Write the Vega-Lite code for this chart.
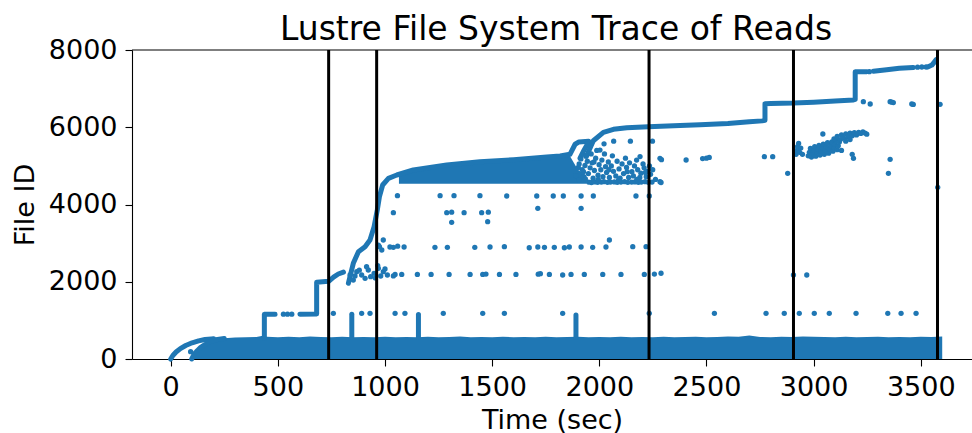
{
  "$schema": "https://vega.github.io/schema/vega-lite/v6.json",
  "width": 840,
  "height": 309,
  "autosize": {"type": "none"},
  "padding": {"left": 132, "top": 50, "right": 0, "bottom": 74},
  "background": "white",
  "title": {"text": "Lustre File System Trace of Reads", "font": "DejaVu Sans", "fontSize": 33, "fontWeight": "normal", "color": "black", "anchor": "middle", "baseline": "alphabetic", "offset": 0, "dy": 36.5, "dx": 4},
  "config": {
    "view": {"stroke": null},
    "axis": {"labelFont": "DejaVu Sans", "titleFont": "DejaVu Sans", "labelFontSize": 27, "titleFontSize": 27, "titleFontWeight": "normal", "labelColor": "black", "titleColor": "black", "tickColor": "black", "domainColor": "black", "domainWidth": 1.1, "tickWidth": 1.1, "grid": false, "tickSize": 7, "labelPadding": 8}
  },
  "datasets": {
    "areas": [
      {"part": "band", "t": 98, "lo": 0, "v": 0},
      {"part": "band", "t": 110, "lo": 0, "v": 130},
      {"part": "band", "t": 125, "lo": 0, "v": 220},
      {"part": "band", "t": 140, "lo": 0, "v": 300},
      {"part": "band", "t": 160, "lo": 0, "v": 370},
      {"part": "band", "t": 185, "lo": 0, "v": 450},
      {"part": "band", "t": 210, "lo": 0, "v": 500},
      {"part": "band", "t": 250, "lo": 0, "v": 540},
      {"part": "band", "t": 300, "lo": 0, "v": 555},
      {"part": "band", "t": 350, "lo": 0, "v": 565},
      {"part": "band", "t": 400, "lo": 0, "v": 570},
      {"part": "band", "t": 430, "lo": 0, "v": 600},
      {"part": "band", "t": 450, "lo": 0, "v": 575},
      {"part": "band", "t": 500, "lo": 0, "v": 565},
      {"part": "band", "t": 550, "lo": 0, "v": 575},
      {"part": "band", "t": 600, "lo": 0, "v": 560},
      {"part": "band", "t": 650, "lo": 0, "v": 580},
      {"part": "band", "t": 700, "lo": 0, "v": 570},
      {"part": "band", "t": 750, "lo": 0, "v": 565},
      {"part": "band", "t": 800, "lo": 0, "v": 575},
      {"part": "band", "t": 850, "lo": 0, "v": 560},
      {"part": "band", "t": 900, "lo": 0, "v": 570},
      {"part": "band", "t": 950, "lo": 0, "v": 565},
      {"part": "band", "t": 1000, "lo": 0, "v": 575},
      {"part": "band", "t": 1050, "lo": 0, "v": 560},
      {"part": "band", "t": 1100, "lo": 0, "v": 570},
      {"part": "band", "t": 1150, "lo": 0, "v": 565},
      {"part": "band", "t": 1200, "lo": 0, "v": 575},
      {"part": "band", "t": 1250, "lo": 0, "v": 560},
      {"part": "band", "t": 1300, "lo": 0, "v": 570},
      {"part": "band", "t": 1350, "lo": 0, "v": 580},
      {"part": "band", "t": 1400, "lo": 0, "v": 565},
      {"part": "band", "t": 1450, "lo": 0, "v": 570},
      {"part": "band", "t": 1500, "lo": 0, "v": 560},
      {"part": "band", "t": 1550, "lo": 0, "v": 575},
      {"part": "band", "t": 1600, "lo": 0, "v": 565},
      {"part": "band", "t": 1650, "lo": 0, "v": 570},
      {"part": "band", "t": 1700, "lo": 0, "v": 560},
      {"part": "band", "t": 1750, "lo": 0, "v": 575},
      {"part": "band", "t": 1800, "lo": 0, "v": 565},
      {"part": "band", "t": 1850, "lo": 0, "v": 570},
      {"part": "band", "t": 1900, "lo": 0, "v": 575},
      {"part": "band", "t": 1950, "lo": 0, "v": 560},
      {"part": "band", "t": 2000, "lo": 0, "v": 570},
      {"part": "band", "t": 2050, "lo": 0, "v": 565},
      {"part": "band", "t": 2100, "lo": 0, "v": 575},
      {"part": "band", "t": 2150, "lo": 0, "v": 560},
      {"part": "band", "t": 2200, "lo": 0, "v": 570},
      {"part": "band", "t": 2250, "lo": 0, "v": 565},
      {"part": "band", "t": 2300, "lo": 0, "v": 575},
      {"part": "band", "t": 2350, "lo": 0, "v": 560},
      {"part": "band", "t": 2400, "lo": 0, "v": 570},
      {"part": "band", "t": 2450, "lo": 0, "v": 575},
      {"part": "band", "t": 2500, "lo": 0, "v": 565},
      {"part": "band", "t": 2550, "lo": 0, "v": 570},
      {"part": "band", "t": 2600, "lo": 0, "v": 580},
      {"part": "band", "t": 2650, "lo": 0, "v": 575},
      {"part": "band", "t": 2700, "lo": 0, "v": 610},
      {"part": "band", "t": 2750, "lo": 0, "v": 570},
      {"part": "band", "t": 2800, "lo": 0, "v": 565},
      {"part": "band", "t": 2850, "lo": 0, "v": 575},
      {"part": "band", "t": 2900, "lo": 0, "v": 570},
      {"part": "band", "t": 2950, "lo": 0, "v": 580},
      {"part": "band", "t": 3000, "lo": 0, "v": 575},
      {"part": "band", "t": 3050, "lo": 0, "v": 570},
      {"part": "band", "t": 3100, "lo": 0, "v": 565},
      {"part": "band", "t": 3150, "lo": 0, "v": 575},
      {"part": "band", "t": 3200, "lo": 0, "v": 560},
      {"part": "band", "t": 3250, "lo": 0, "v": 570},
      {"part": "band", "t": 3300, "lo": 0, "v": 575},
      {"part": "band", "t": 3350, "lo": 0, "v": 560},
      {"part": "band", "t": 3400, "lo": 0, "v": 570},
      {"part": "band", "t": 3450, "lo": 0, "v": 565},
      {"part": "band", "t": 3500, "lo": 0, "v": 575},
      {"part": "band", "t": 3550, "lo": 0, "v": 570},
      {"part": "band", "t": 3600, "lo": 0, "v": 580},
      {"part": "cluster", "t": 1065, "lo": 4540, "v": 4780},
      {"part": "cluster", "t": 1100, "lo": 4540, "v": 4840},
      {"part": "cluster", "t": 1200, "lo": 4540, "v": 4950},
      {"part": "cluster", "t": 1300, "lo": 4540, "v": 5030},
      {"part": "cluster", "t": 1400, "lo": 4540, "v": 5090},
      {"part": "cluster", "t": 1500, "lo": 4540, "v": 5130},
      {"part": "cluster", "t": 1600, "lo": 4540, "v": 5160},
      {"part": "cluster", "t": 1700, "lo": 4540, "v": 5200},
      {"part": "cluster", "t": 1800, "lo": 4540, "v": 5250},
      {"part": "cluster", "t": 1860, "lo": 4540, "v": 5280},
      {"part": "cluster", "t": 1900, "lo": 4540, "v": 4900},
      {"part": "cluster", "t": 1940, "lo": 4540, "v": 4760}
    ],
    "curves": [
      {"seg": "a1", "i": 1, "t": 0, "v": 0},
      {"seg": "a1", "i": 2, "t": 10, "v": 90},
      {"seg": "a1", "i": 3, "t": 25, "v": 180},
      {"seg": "a1", "i": 4, "t": 45, "v": 270},
      {"seg": "a1", "i": 5, "t": 70, "v": 350},
      {"seg": "a1", "i": 6, "t": 100, "v": 420},
      {"seg": "a1", "i": 7, "t": 130, "v": 470},
      {"seg": "a1", "i": 8, "t": 160, "v": 505},
      {"seg": "a1", "i": 9, "t": 190, "v": 520},
      {"seg": "a1", "i": 10, "t": 200, "v": 525},
      {"seg": "a2", "i": 1, "t": 98, "v": 0},
      {"seg": "a2", "i": 2, "t": 110, "v": 130},
      {"seg": "a2", "i": 3, "t": 125, "v": 220},
      {"seg": "a2", "i": 4, "t": 140, "v": 300},
      {"seg": "a2", "i": 5, "t": 160, "v": 370},
      {"seg": "a2", "i": 6, "t": 185, "v": 450},
      {"seg": "a2", "i": 7, "t": 210, "v": 500},
      {"seg": "a2", "i": 8, "t": 250, "v": 530},
      {"seg": "s1", "i": 1, "t": 437, "v": 540},
      {"seg": "s1", "i": 2, "t": 437, "v": 1157},
      {"seg": "s1", "i": 3, "t": 487, "v": 1160},
      {"seg": "s2", "i": 1, "t": 603, "v": 1160},
      {"seg": "s2", "i": 2, "t": 681, "v": 1165},
      {"seg": "s2", "i": 3, "t": 681, "v": 1985},
      {"seg": "s2", "i": 4, "t": 737, "v": 2010},
      {"seg": "s2", "i": 5, "t": 760, "v": 2120},
      {"seg": "s2", "i": 6, "t": 782, "v": 2200},
      {"seg": "s2", "i": 7, "t": 806, "v": 2250},
      {"seg": "s3", "i": 1, "t": 829, "v": 1960},
      {"seg": "s3", "i": 2, "t": 852, "v": 2477},
      {"seg": "s3", "i": 3, "t": 876, "v": 2778},
      {"seg": "s3", "i": 4, "t": 907, "v": 2908},
      {"seg": "s3", "i": 5, "t": 930, "v": 3081},
      {"seg": "s3", "i": 6, "t": 949, "v": 3425},
      {"seg": "s3", "i": 7, "t": 964, "v": 3858},
      {"seg": "s3", "i": 8, "t": 974, "v": 4202},
      {"seg": "s3", "i": 9, "t": 989, "v": 4505},
      {"seg": "s3", "i": 10, "t": 1016, "v": 4678},
      {"seg": "s3", "i": 11, "t": 1055, "v": 4764},
      {"seg": "s3", "i": 12, "t": 1132, "v": 4893},
      {"seg": "s3", "i": 13, "t": 1288, "v": 5023},
      {"seg": "s3", "i": 14, "t": 1443, "v": 5108},
      {"seg": "s3", "i": 15, "t": 1600, "v": 5160},
      {"seg": "s3", "i": 16, "t": 1755, "v": 5230},
      {"seg": "s3", "i": 17, "t": 1817, "v": 5256},
      {"seg": "s3", "i": 18, "t": 1863, "v": 5300},
      {"seg": "s3", "i": 19, "t": 1887, "v": 5560},
      {"seg": "s3", "i": 20, "t": 1905, "v": 5620},
      {"seg": "s3", "i": 21, "t": 1950, "v": 5640},
      {"seg": "s4", "i": 1, "t": 1950, "v": 5620},
      {"seg": "s4", "i": 2, "t": 1928, "v": 5400},
      {"seg": "s4", "i": 3, "t": 1910, "v": 5200},
      {"seg": "s5", "i": 1, "t": 1940, "v": 5250},
      {"seg": "s5", "i": 2, "t": 1972, "v": 5650},
      {"seg": "s5", "i": 3, "t": 2019, "v": 5868},
      {"seg": "s5", "i": 4, "t": 2066, "v": 5946},
      {"seg": "s5", "i": 5, "t": 2128, "v": 5989},
      {"seg": "s5", "i": 6, "t": 2229, "v": 6015},
      {"seg": "s5", "i": 7, "t": 2377, "v": 6045},
      {"seg": "s5", "i": 8, "t": 2470, "v": 6065},
      {"seg": "s5", "i": 9, "t": 2600, "v": 6100},
      {"seg": "s5", "i": 10, "t": 2700, "v": 6140},
      {"seg": "s5", "i": 11, "t": 2760, "v": 6165},
      {"seg": "s5", "i": 12, "t": 2773, "v": 6180},
      {"seg": "s5", "i": 13, "t": 2773, "v": 6610},
      {"seg": "s5", "i": 14, "t": 2800, "v": 6615},
      {"seg": "s5", "i": 15, "t": 2906, "v": 6625},
      {"seg": "s5", "i": 16, "t": 3000, "v": 6650},
      {"seg": "s5", "i": 17, "t": 3100, "v": 6680},
      {"seg": "s5", "i": 18, "t": 3186, "v": 6706},
      {"seg": "s5", "i": 19, "t": 3194, "v": 6720},
      {"seg": "s5", "i": 20, "t": 3194, "v": 7438},
      {"seg": "s5", "i": 21, "t": 3248, "v": 7440},
      {"seg": "s6", "i": 1, "t": 3279, "v": 7450},
      {"seg": "s6", "i": 2, "t": 3341, "v": 7490},
      {"seg": "s6", "i": 3, "t": 3400, "v": 7525},
      {"seg": "s6", "i": 4, "t": 3465, "v": 7550},
      {"seg": "s7", "i": 1, "t": 3535, "v": 7565},
      {"seg": "s7", "i": 2, "t": 3552, "v": 7610},
      {"seg": "s7", "i": 3, "t": 3565, "v": 7700},
      {"seg": "s7", "i": 4, "t": 3572, "v": 7750},
      {"seg": "k1", "i": 1, "t": 845, "v": 560},
      {"seg": "k1", "i": 2, "t": 845, "v": 1157},
      {"seg": "k2", "i": 1, "t": 1156, "v": 560},
      {"seg": "k2", "i": 2, "t": 1156, "v": 1150},
      {"seg": "k3", "i": 1, "t": 1891, "v": 560},
      {"seg": "k3", "i": 2, "t": 1891, "v": 1139}
    ],
    "points": [
      {"t": 93, "v": 190},
      {"t": 526, "v": 1160}, {"t": 545, "v": 1160}, {"t": 565, "v": 1160},
      {"t": 759, "v": 1183}, {"t": 891, "v": 1183}, {"t": 930, "v": 1183}, {"t": 1047, "v": 1183}, {"t": 1093, "v": 1183},
      {"t": 1272, "v": 1183}, {"t": 1456, "v": 1183}, {"t": 1557, "v": 1183}, {"t": 1829, "v": 1183}, {"t": 2233, "v": 1183},
      {"t": 2537, "v": 1183}, {"t": 2778, "v": 1183}, {"t": 2863, "v": 1183}, {"t": 2933, "v": 1183}, {"t": 3003, "v": 1183},
      {"t": 3073, "v": 1183}, {"t": 3198, "v": 1183}, {"t": 3346, "v": 1183}, {"t": 3408, "v": 1183}, {"t": 3478, "v": 1183},
      {"t": 1047, "v": 2190}, {"t": 1078, "v": 2190}, {"t": 1151, "v": 2190}, {"t": 1215, "v": 2190}, {"t": 1299, "v": 2190},
      {"t": 1397, "v": 2190}, {"t": 1456, "v": 2190}, {"t": 1471, "v": 2200}, {"t": 1534, "v": 2190}, {"t": 1611, "v": 2190},
      {"t": 1715, "v": 2195}, {"t": 1725, "v": 2210}, {"t": 1767, "v": 2190}, {"t": 1829, "v": 2175}, {"t": 1868, "v": 2190},
      {"t": 1930, "v": 2190}, {"t": 2016, "v": 2190}, {"t": 2101, "v": 2190}, {"t": 2210, "v": 2190}, {"t": 2257, "v": 2200},
      {"t": 2288, "v": 2220}, {"t": 2906, "v": 2175}, {"t": 2968, "v": 2175},
      {"t": 837, "v": 2175}, {"t": 852, "v": 2045}, {"t": 868, "v": 2262}, {"t": 891, "v": 2175}, {"t": 907, "v": 2089},
      {"t": 922, "v": 2304}, {"t": 933, "v": 2131}, {"t": 949, "v": 2219}, {"t": 969, "v": 2348}, {"t": 980, "v": 2149},
      {"t": 992, "v": 2262}, {"t": 1011, "v": 2175}, {"t": 966, "v": 2420}, {"t": 914, "v": 2390}, {"t": 1039, "v": 2150},
      {"t": 860, "v": 2150}, {"t": 880, "v": 2300}, {"t": 955, "v": 2100}, {"t": 1000, "v": 2330},
      {"t": 969, "v": 2950}, {"t": 985, "v": 2822}, {"t": 992, "v": 3081}, {"t": 974, "v": 2908}, {"t": 1023, "v": 2900},
      {"t": 1039, "v": 2890}, {"t": 1059, "v": 2920}, {"t": 1089, "v": 2900}, {"t": 1233, "v": 2890}, {"t": 1291, "v": 2890},
      {"t": 1419, "v": 2890}, {"t": 1490, "v": 2900}, {"t": 1557, "v": 2908}, {"t": 1673, "v": 2880}, {"t": 1713, "v": 2900},
      {"t": 1744, "v": 2890}, {"t": 1790, "v": 2890}, {"t": 1837, "v": 2880}, {"t": 1860, "v": 2900}, {"t": 1915, "v": 2900},
      {"t": 1969, "v": 2890}, {"t": 2031, "v": 2900}, {"t": 2047, "v": 3081}, {"t": 2156, "v": 2908}, {"t": 2218, "v": 2908},
      {"t": 1039, "v": 3788}, {"t": 1288, "v": 3788}, {"t": 1311, "v": 3800}, {"t": 1369, "v": 3788}, {"t": 1451, "v": 3788},
      {"t": 1482, "v": 3800}, {"t": 1311, "v": 3539}, {"t": 1479, "v": 3555}, {"t": 1713, "v": 3901}, {"t": 1915, "v": 3901},
      {"t": 1058, "v": 4228}, {"t": 1257, "v": 4228}, {"t": 1322, "v": 4228}, {"t": 1443, "v": 4228}, {"t": 1568, "v": 4220},
      {"t": 1708, "v": 4220}, {"t": 1785, "v": 4220}, {"t": 1832, "v": 4220}, {"t": 1915, "v": 4220}, {"t": 1972, "v": 4220},
      {"t": 2171, "v": 4220}, {"t": 2233, "v": 4220},
      {"t": 1950, "v": 4580}, {"t": 1963, "v": 4570}, {"t": 1978, "v": 4585}, {"t": 1992, "v": 4575}, {"t": 2009, "v": 4580},
      {"t": 2021, "v": 4590}, {"t": 2038, "v": 4575}, {"t": 2052, "v": 4580}, {"t": 2070, "v": 4585}, {"t": 2084, "v": 4575},
      {"t": 2101, "v": 4580}, {"t": 2118, "v": 4590}, {"t": 2133, "v": 4575}, {"t": 2151, "v": 4580}, {"t": 2166, "v": 4585},
      {"t": 2182, "v": 4575}, {"t": 2196, "v": 4580}, {"t": 2214, "v": 4590}, {"t": 2229, "v": 4575}, {"t": 2246, "v": 4580},
      {"t": 1890, "v": 4750}, {"t": 1902, "v": 4960}, {"t": 1906, "v": 5050}, {"t": 1914, "v": 5180}, {"t": 1921, "v": 4700},
      {"t": 1926, "v": 4850}, {"t": 1933, "v": 5010}, {"t": 1937, "v": 5250}, {"t": 1944, "v": 5120}, {"t": 1949, "v": 4800},
      {"t": 1957, "v": 4950}, {"t": 1962, "v": 5310}, {"t": 1966, "v": 5080}, {"t": 1971, "v": 4680}, {"t": 1977, "v": 4880},
      {"t": 1983, "v": 5200}, {"t": 1988, "v": 5400}, {"t": 1994, "v": 4760}, {"t": 1999, "v": 5030}, {"t": 2007, "v": 4900},
      {"t": 2012, "v": 5150}, {"t": 2017, "v": 4720}, {"t": 2024, "v": 5310}, {"t": 2029, "v": 4980}, {"t": 2034, "v": 4830},
      {"t": 2042, "v": 5100}, {"t": 2047, "v": 4700}, {"t": 2056, "v": 5000}, {"t": 2061, "v": 5260}, {"t": 2066, "v": 4860},
      {"t": 2077, "v": 4740}, {"t": 2083, "v": 5120}, {"t": 2092, "v": 4920}, {"t": 2097, "v": 4680}, {"t": 2106, "v": 5050},
      {"t": 2113, "v": 4800}, {"t": 2122, "v": 5200}, {"t": 2127, "v": 4960}, {"t": 2137, "v": 4700}, {"t": 2141, "v": 5080},
      {"t": 2152, "v": 4850}, {"t": 2159, "v": 4740}, {"t": 2164, "v": 5000}, {"t": 2174, "v": 5150}, {"t": 2179, "v": 4900},
      {"t": 2189, "v": 4700}, {"t": 2194, "v": 4810}, {"t": 2204, "v": 5050}, {"t": 2209, "v": 4950}, {"t": 2219, "v": 4720},
      {"t": 2224, "v": 4860}, {"t": 2234, "v": 5000}, {"t": 2239, "v": 4780}, {"t": 2249, "v": 4900}, {"t": 2262, "v": 4650},
      {"t": 1905, "v": 4640}, {"t": 1935, "v": 4660}, {"t": 1920, "v": 4900}, {"t": 1995, "v": 4650}, {"t": 2045, "v": 4900},
      {"t": 2090, "v": 4640}, {"t": 2130, "v": 4850}, {"t": 2175, "v": 4650}, {"t": 2215, "v": 4830}, {"t": 1975, "v": 5100},
      {"t": 2283, "v": 5196}, {"t": 2283, "v": 4590}, {"t": 2022, "v": 5570}, {"t": 2067, "v": 5640}, {"t": 2145, "v": 5640},
      {"t": 2248, "v": 5640}, {"t": 2003, "v": 5410}, {"t": 2190, "v": 5240}, {"t": 2290, "v": 5160}, {"t": 2288, "v": 4570},
      {"t": 2405, "v": 5152}, {"t": 2482, "v": 5190}, {"t": 2500, "v": 5200}, {"t": 2513, "v": 5220}, {"t": 2770, "v": 5238},
      {"t": 2809, "v": 5238}, {"t": 2879, "v": 4808},
      {"t": 3232, "v": 6662}, {"t": 3264, "v": 6602}, {"t": 3357, "v": 6662}, {"t": 3365, "v": 6650}, {"t": 3372, "v": 6640},
      {"t": 3458, "v": 6602}, {"t": 3465, "v": 6590}, {"t": 3590, "v": 6593},
      {"t": 3357, "v": 5170}, {"t": 3349, "v": 4808}, {"t": 3579, "v": 4445}, {"t": 3186, "v": 5196},
      {"t": 3260, "v": 7440}, {"t": 3485, "v": 7555}, {"t": 3505, "v": 7560}, {"t": 3525, "v": 7560},
      {"t": 2918, "v": 5300}, {"t": 2922, "v": 5400}, {"t": 2925, "v": 5500}, {"t": 2930, "v": 5580}, {"t": 2935, "v": 5350},
      {"t": 2940, "v": 5460}, {"t": 2948, "v": 5300},
      {"t": 2975, "v": 5260}, {"t": 2980, "v": 5350}, {"t": 2985, "v": 5450}, {"t": 2990, "v": 5230}, {"t": 2995, "v": 5320},
      {"t": 3000, "v": 5400}, {"t": 3005, "v": 5500}, {"t": 3010, "v": 5250}, {"t": 3015, "v": 5350}, {"t": 3020, "v": 5430},
      {"t": 3025, "v": 5530}, {"t": 3030, "v": 5280}, {"t": 3035, "v": 5380}, {"t": 3040, "v": 5460}, {"t": 3045, "v": 5560},
      {"t": 3050, "v": 5300}, {"t": 3055, "v": 5400}, {"t": 3060, "v": 5500}, {"t": 3065, "v": 5600}, {"t": 3070, "v": 5330},
      {"t": 3075, "v": 5430}, {"t": 3080, "v": 5520}, {"t": 3085, "v": 5620}, {"t": 3090, "v": 5380}, {"t": 3095, "v": 5470},
      {"t": 3100, "v": 5560}, {"t": 3105, "v": 5660}, {"t": 3110, "v": 5420}, {"t": 3115, "v": 5520}, {"t": 3120, "v": 5620},
      {"t": 3095, "v": 5700}, {"t": 3110, "v": 5760}, {"t": 3125, "v": 5680}, {"t": 3130, "v": 5800}, {"t": 3140, "v": 5720},
      {"t": 3150, "v": 5830}, {"t": 3160, "v": 5750}, {"t": 3170, "v": 5850}, {"t": 3180, "v": 5780}, {"t": 3190, "v": 5860},
      {"t": 3200, "v": 5800}, {"t": 3210, "v": 5870}, {"t": 3220, "v": 5840}, {"t": 3230, "v": 5880}, {"t": 3240, "v": 5850},
      {"t": 3248, "v": 5820}, {"t": 3150, "v": 5640}, {"t": 3170, "v": 5680},
      {"t": 3043, "v": 5825}, {"t": 3180, "v": 5300}, {"t": 3130, "v": 5400}
    ],
    "vlines": [
      {"t": 737}, {"t": 961}, {"t": 2232}, {"t": 2906}, {"t": 3578}
    ]
  },
  "layer": [
    {
      "data": {"name": "areas"},
      "mark": {"type": "area", "color": "#1f77b4", "interpolate": "linear"},
      "encoding": {
        "x": {"field": "t", "type": "quantitative", "title": "Time (sec)", "scale": {"domain": [-180.6, 3739], "nice": false, "zero": false},
              "axis": {"values": [0, 500, 1000, 1500, 2000, 2500, 3000, 3500], "format": "d", "titleBaseline": "alphabetic", "titleY": 69}},
        "y": {"field": "v", "type": "quantitative", "title": "File ID", "stack": null, "scale": {"domain": [0, 8000], "nice": false, "zero": false},
              "axis": {"values": [0, 2000, 4000, 6000, 8000], "format": "d", "titleBaseline": "alphabetic", "titleX": -99, "titleY": 154.5, "titleAlign": "center", "titleAngle": -90}},
        "y2": {"field": "lo"},
        "detail": {"field": "part"}
      }
    },
    {
      "data": {"name": "curves"},
      "mark": {"type": "line", "color": "#1f77b4", "strokeWidth": 5, "strokeCap": "round", "strokeJoin": "round"},
      "encoding": {
        "x": {"field": "t", "type": "quantitative", "title": "Time (sec)"},
        "y": {"field": "v", "type": "quantitative", "title": "File ID"},
        "detail": {"field": "seg"},
        "order": {"field": "i"}
      }
    },
    {
      "data": {"name": "points"},
      "mark": {"type": "circle", "color": "#1f77b4", "size": 28, "opacity": 1},
      "encoding": {
        "x": {"field": "t", "type": "quantitative", "title": "Time (sec)"},
        "y": {"field": "v", "type": "quantitative", "title": "File ID"}
      }
    },
    {
      "data": {"name": "vlines"},
      "mark": {"type": "rule", "color": "black", "strokeWidth": 3},
      "encoding": {
        "x": {"field": "t", "type": "quantitative", "title": "Time (sec)"}
      }
    },
    {
      "data": {"values": [{}]},
      "mark": {"type": "rule", "color": "black", "strokeWidth": 1.1},
      "encoding": {
        "y": {"datum": 8000}
      }
    }
  ]
}
